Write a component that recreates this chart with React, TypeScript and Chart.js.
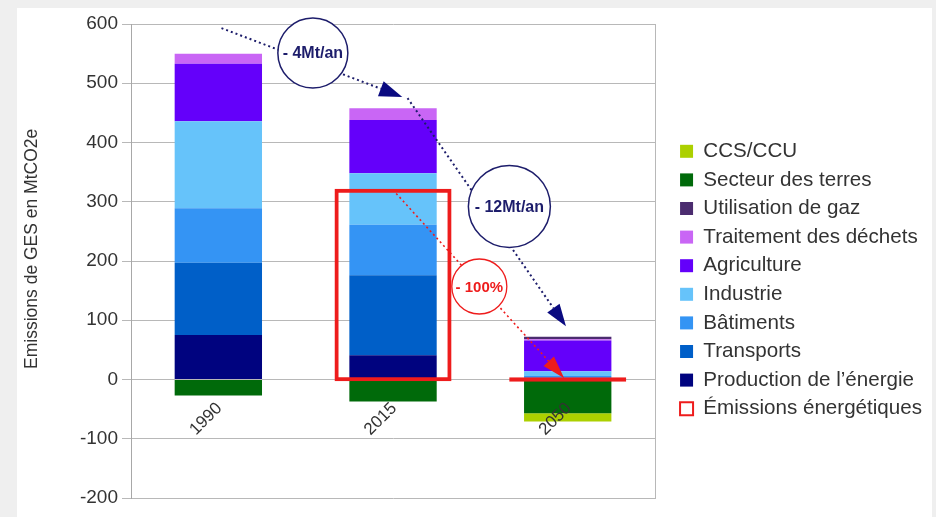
import React, { useEffect, useRef } from 'react';
import { Chart, registerables } from 'chart.js';

Chart.register(...registerables);

// ---- data ----
const categories = ['1990', '2015', '2050'];
const production = [75, 41, 1];
const transports = [122, 135, 2];
const batiments = [92, 85, 3];
const industrie = [147, 87, 8];
const agriculture = [97, 90, 52];
const dechets = [17, 20, 2];
const gaz = [0, 0, 4];
const terres = [-27, -37, -57];
const ccs = [0, 0, -14];
// energy-related emissions frame (2015) and its 2050 target (zero)
const emissionsEnergetiques: (number[] | null)[] = [null, [-3, 322], [-4, 4]];
const yMin = -200;
const yMax = 600;
const yStep = 100;

// ---- annotations (data coordinates: category index, value) ----
const trendLabels = ['- 4Mt/an', '- 12Mt/an', '- 100%'];
const trendLabelAt = [[0.541, 551], [1.666, 292], [1.494, 157]];
const trendArrowFrom = [[0.018, 593], [1.083, 475], [1.018, 314]];
const trendArrowTo = [[1.053, 477], [1.99, 90], [1.98, 2]];

const NAVY = '#1d1d6b';
const RED = '#ee1c1c';
const GRID = '#b8b8b8';
const TXT = '#333333';
const FONT = '"Liberation Sans", Arial, sans-serif';

const annotationPlugin = {
  id: 'trendAnnotations',
  afterDatasetsDraw(chart: any) {
    const { ctx, scales } = chart;
    const sx = scales.x;
    const sy = scales.y;
    const px = (p: number[]) => [sx.getPixelForValue(p[0]), sy.getPixelForValue(p[1])];
    const styles = [
      { color: NAVY, width: 2, r: 35, font: 16, head: 23, half: 8, ring: 1.5 },
      { color: NAVY, width: 2, r: 41, font: 16, head: 22, half: 7.5, ring: 1.5 },
      { color: RED, width: 1.6, r: 27.5, font: 15, head: 23, half: 7, ring: 1.3 },
    ];
    ctx.save();
    // dotted lines
    trendArrowFrom.forEach((from, i) => {
      const st = styles[i];
      const [x1, y1] = px(from);
      const [x2, y2] = px(trendArrowTo[i]);
      const a = Math.atan2(y2 - y1, x2 - x1);
      ctx.strokeStyle = st.color;
      ctx.lineWidth = st.width;
      ctx.setLineDash([2, 3]);
      ctx.beginPath();
      ctx.moveTo(x1, y1);
      ctx.lineTo(x2 - Math.cos(a) * st.head, y2 - Math.sin(a) * st.head);
      ctx.stroke();
    });
    ctx.setLineDash([]);
    // bubbles
    trendLabels.forEach((label, i) => {
      const st = styles[i];
      const [cx, cy] = px(trendLabelAt[i]);
      ctx.beginPath();
      ctx.arc(cx, cy, st.r, 0, Math.PI * 2);
      ctx.fillStyle = '#ffffff';
      ctx.fill();
      ctx.strokeStyle = st.color;
      ctx.lineWidth = st.ring;
      ctx.stroke();
      ctx.fillStyle = st.color;
      ctx.font = `bold ${st.font}px ${FONT}`;
      ctx.textAlign = 'center';
      ctx.textBaseline = 'middle';
      ctx.fillText(label, cx, cy + 1);
    });
    // arrow heads
    trendArrowFrom.forEach((from, i) => {
      const st = styles[i];
      const [x1, y1] = px(from);
      const [x2, y2] = px(trendArrowTo[i]);
      const a = Math.atan2(y2 - y1, x2 - x1);
      const bx = x2 - Math.cos(a) * st.head;
      const by = y2 - Math.sin(a) * st.head;
      const nx = -Math.sin(a) * st.half;
      const ny = Math.cos(a) * st.half;
      ctx.beginPath();
      ctx.moveTo(x2, y2);
      ctx.lineTo(bx + nx, by + ny);
      ctx.lineTo(bx - nx, by - ny);
      ctx.closePath();
      ctx.fillStyle = i === 2 ? RED : '#0a0a80';
      ctx.fill();
    });
    ctx.restore();
  },
};

const series = [
  { label: 'Production de l\u2019énergie', data: production, color: '#00037f' },
  { label: 'Transports', data: transports, color: '#005fc8' },
  { label: 'Bâtiments', data: batiments, color: '#3494f4' },
  { label: 'Industrie', data: industrie, color: '#66c3fa' },
  { label: 'Agriculture', data: agriculture, color: '#6400fa' },
  { label: 'Traitement des déchets', data: dechets, color: '#c966f5' },
  { label: 'Utilisation de gaz', data: gaz, color: '#4b2c6f' },
  { label: 'Secteur des terres', data: terres, color: '#006a0a' },
  { label: 'CCS/CCU', data: ccs, color: '#acd000' },
];

export default function App() {
  const ref = useRef<HTMLCanvasElement>(null);

  useEffect(() => {
    const datasets: any[] = [
      {
        label: 'Émissions énergétiques',
        data: emissionsEnergetiques,
        stack: 'energie',
        grouped: false,
        barPercentage: 0.67,
        categoryPercentage: 1,
        backgroundColor: (c: any) => (c.dataIndex === 2 ? RED : 'rgba(0,0,0,0)'),
        borderColor: RED,
        borderWidth: 4,
        borderSkipped: false,
        xAxisID: 'x',
        yAxisID: 'y',
      },
      ...series.map((s) => ({
        label: s.label,
        data: s.data,
        backgroundColor: s.color,
        borderWidth: 0,
        stack: 'ges',
        barPercentage: 0.5,
        categoryPercentage: 1,
        xAxisID: 'x',
        yAxisID: 'y',
      })),
    ];

    const chart = new Chart(ref.current as HTMLCanvasElement, {
      type: 'bar',
      data: { labels: categories, datasets },
      plugins: [annotationPlugin],
      options: {
        responsive: false,
        devicePixelRatio: 1,
        animation: false,
        layout: { padding: { top: 24, bottom: 19, left: 0, right: 4 } },
        scales: {
          x: {
            type: 'category',
            stacked: true,
            position: { y: 0 } as any,
            grid: { display: false, drawTicks: true, tickLength: 6 },
            border: { display: false },
            ticks: {
              z: 1,
              minRotation: 45,
              maxRotation: 45,
              color: TXT,
              padding: 13,
              labelOffset: 1,
              font: { family: FONT, size: 17 },
            },
          },
          y: {
            type: 'linear',
            stacked: true,
            min: yMin,
            max: yMax,
            afterFit: (s: any) => {
              s.width = 131;
            },
            grid: { color: GRID, lineWidth: 1, drawTicks: true, tickLength: 9 },
            border: { display: true, color: '#a8a8a8', width: 1 },
            ticks: {
              stepSize: yStep,
              padding: 4,
              color: TXT,
              font: { family: FONT, size: 19 },
            },
            title: {
              display: true,
              text: '     Emissions de GES en MtCO2e',
              color: TXT,
              padding: { top: 21.5, bottom: 0 },
              font: { family: FONT, size: 17.5 },
            },
          },
          yR: {
            type: 'linear',
            position: 'right',
            display: true,
            afterFit: (s: any) => {
              s.width = 17;
            },
            grid: { display: false, drawTicks: false },
            ticks: { display: false },
            border: { display: true, color: GRID, width: 1 },
          },
        },
        plugins: {
          tooltip: { enabled: false },
          legend: {
            position: 'right',
            align: 'start',
            reverse: true,
            maxWidth: 320,
            title: {
              display: true,
              text: '',
              padding: { top: 99, bottom: 0 },
              font: { size: 10, lineHeight: 1 },
            },
            labels: {
              boxWidth: 13,
              boxHeight: 13,
              padding: 8,
              color: TXT,
              font: { family: FONT, size: 20.6 },
              generateLabels: (c: any) => {
                const items = Chart.defaults.plugins.legend.labels.generateLabels(c);
                return items.map((it: any) =>
                  it.datasetIndex === 0
                    ? { ...it, fillStyle: 'rgba(0,0,0,0)', strokeStyle: RED, lineWidth: 2 }
                    : { ...it, lineWidth: 0 }
                );
              },
            },
          },
        },
      } as any,
    });
    return () => chart.destroy();
  }, []);

  return (
    <div
      style={{
        position: 'fixed',
        left: 0,
        top: 0,
        width: 936,
        height: 517,
        background: '#efefef',
        overflow: 'hidden',
      }}
    >
      <div style={{ position: 'absolute', left: 17, top: 8, width: 915, height: 509, background: '#ffffff' }} />
      <canvas
        ref={ref}
        width={936}
        height={517}
        style={{ position: 'absolute', left: 0, top: 0, width: 936, height: 517 }}
      />
    </div>
  );
}
